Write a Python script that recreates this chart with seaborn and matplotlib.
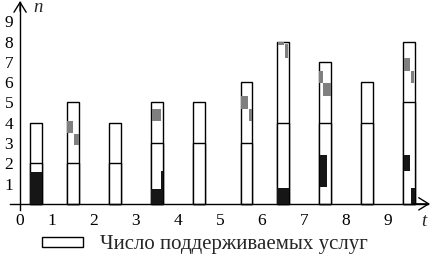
import matplotlib
matplotlib.use('Agg')
import matplotlib.pyplot as plt
import seaborn as sns
import pandas as pd
import numpy as np
from matplotlib.patches import Patch

# ---------------- data ----------------
t_pos = [0.62, 1.5, 2.5, 3.5, 4.5, 5.63, 6.5, 7.5, 8.5, 9.5]
n_total = [4, 5, 4, 5, 5, 6, 8, 7, 6, 8]
n_lower = [2, 2, 2, 3, 3, 3, 4, 4, 4, 5]

black_bar = [0, 3, 3, 6, 7, 9, 9]
black_lo = [0.0, 0.0, 0.75, 0.0, 0.82, 1.6, 0.0]
black_hi = [1.58, 0.75, 1.6, 0.77, 2.43, 2.43, 0.78]

gray_bar = [1, 1, 3, 5, 5, 6, 6, 7, 7, 9, 9]
gray_lo = [3.5, 2.9, 4.1, 4.7, 4.1, 7.83, 7.2, 5.95, 5.32, 6.55, 5.94]
gray_hi = [4.1, 3.45, 4.7, 5.3, 4.7, 7.99, 7.9, 6.57, 5.95, 7.18, 6.55]

x_tick_labels = ['0', '1', '2', '3', '4', '5', '6', '7', '8', '9']
y_tick_values = [1, 2, 3, 4, 5, 6, 7, 8, 9]
legend_label = 'Число поддерживаемых услуг'
x_name = 't'
y_name = 'n'

# ---------------- layout / style ----------------
BAR_W = 0.27
ORIGIN_X = 0.24
black_span = [(0, 1), (0, 1), (0.86, 1), (0, 1), (0.08, 0.72), (0.05, 0.6), (0.7, 1)]
gray_span = [(0, 0.47), (0.6, 1), (0.09, 0.85), (0, 0.62), (0.7, 1),
             (0.08, 0.6), (0.68, 0.95), (0, 0.35), (0.35, 1), (0.05, 0.6), (0.65, 0.95)]
BLACK = '#161616'
GRAY = '#7f7f7f'
FS = 12.5
FS_LEG = 15

sns.set_style('white')
plt.rcParams['font.family'] = ['Liberation Serif', 'DejaVu Serif']

fig = plt.figure(figsize=(4.32, 2.56), dpi=100)
ax = fig.add_axes([10 / 432, (256 - 214) / 256, 420 / 432, 213 / 256])

df = pd.DataFrame({'t': t_pos, 'n': n_total, 'lower': n_lower})
spacing = np.min(np.diff(np.sort(df['t'].values)))

sns.barplot(data=df, x='t', y='n', native_scale=True, width=BAR_W / spacing,
            color='white', saturation=1, edgecolor='black', linewidth=1,
            errorbar=None, ax=ax)
sns.barplot(data=df, x='t', y='lower', native_scale=True, width=BAR_W / spacing,
            color='white', saturation=1, edgecolor='black', linewidth=1,
            errorbar=None, ax=ax)

def draw_segments(bars, lo, hi, spans, color):
    for b, a, h, (s0, s1) in zip(bars, lo, hi, spans):
        left = t_pos[b] - BAR_W / 2 + s0 * BAR_W
        ax.bar(left, h - a, width=(s1 - s0) * BAR_W, bottom=a, align='edge',
               color=color, linewidth=0, zorder=3)

draw_segments(black_bar, black_lo, black_hi, black_span, BLACK)
draw_segments(gray_bar, gray_lo, gray_hi, gray_span, GRAY)

ax.set_xlim(0, 10)
ax.set_ylim(-0.5, 10.0)
ax.set_xlabel('')
ax.set_ylabel('')

for s in ['top', 'right']:
    ax.spines[s].set_visible(False)
ax.spines['left'].set_position(('data', ORIGIN_X))
ax.spines['bottom'].set_position(('data', 0))
ax.spines['left'].set_bounds(-0.3, 9.95)
ax.spines['bottom'].set_bounds(0, 9.95)
for s in ['left', 'bottom']:
    ax.spines[s].set_linewidth(1)
    ax.spines[s].set_color('black')

ax.set_xticks([ORIGIN_X] + list(range(1, 10)))
ax.set_xticklabels(x_tick_labels)
ax.set_yticks(y_tick_values)
ax.set_yticklabels([str(v) for v in y_tick_values])
ax.tick_params(axis='both', direction='inout', length=8, width=1, color='black',
               labelsize=FS, labelcolor='black')
ax.tick_params(axis='x', pad=2.5)
ax.tick_params(axis='y', pad=1.0)

arrow = dict(arrowstyle='->,head_length=0.65,head_width=0.4', lw=1, color='black',
             shrinkA=0, shrinkB=0)
ax.annotate('', xy=(10.0, 0), xytext=(9.6, 0), arrowprops=arrow, fontsize=11)
ax.annotate('', xy=(ORIGIN_X, 10.0), xytext=(ORIGIN_X, 9.5), arrowprops=arrow, fontsize=11)

fig.text(38 / 432, 1 - 8 / 256, y_name, style='italic', fontsize=FS + 1,
         ha='center', va='center')
fig.text(424 / 432, 1 - 222 / 256, x_name, style='italic', fontsize=FS + 1,
         ha='center', va='center')

px = FS_LEG * 100 / 72
handles = [Patch(facecolor='white', edgecolor='black', linewidth=1)]
fig.legend(handles, [legend_label], loc='center left',
           bbox_to_anchor=(42 / 432, 1 - 245 / 256), frameon=False,
           borderpad=0, borderaxespad=0, handlelength=41 / px,
           handleheight=8 / px, handletextpad=17 / px, fontsize=FS_LEG)

fig.savefig('out.png', dpi=100)
